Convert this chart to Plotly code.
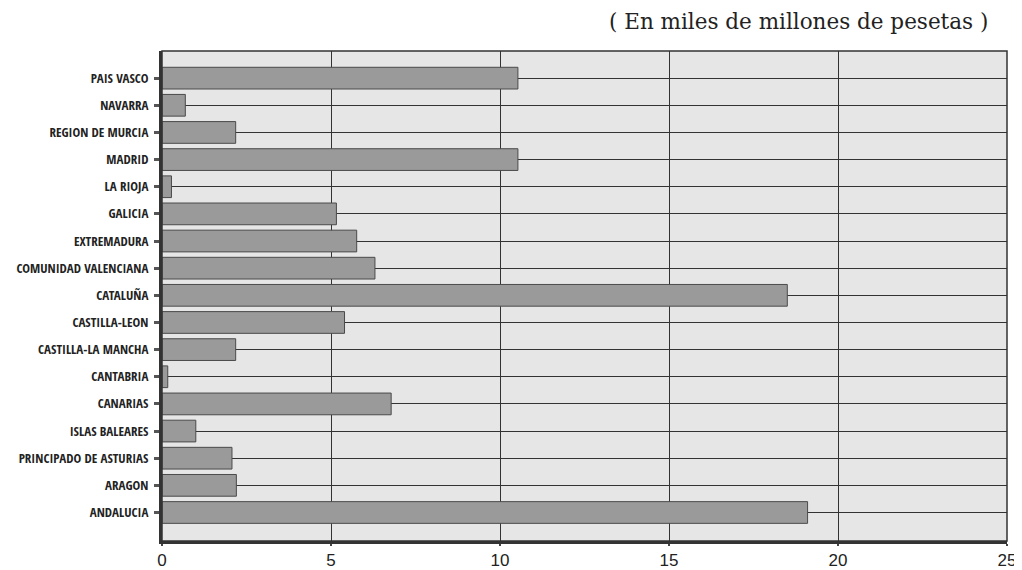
import plotly.graph_objects as go

# Categories listed bottom -> top
regiones = [
    "ANDALUCIA", "ARAGON", "PRINCIPADO DE ASTURIAS", "ISLAS BALEARES", "CANARIAS",
    "CANTABRIA", "CASTILLA-LA MANCHA", "CASTILLA-LEON", "CATALUÑA",
    "COMUNIDAD VALENCIANA", "EXTREMADURA", "GALICIA", "LA RIOJA", "MADRID",
    "REGION DE MURCIA", "NAVARRA", "PAIS VASCO",
]
valores = [
    19.1, 2.2, 2.07, 1.0, 6.78,
    0.17, 2.18, 5.4, 18.5,
    6.3, 5.76, 5.16, 0.28, 10.53,
    2.18, 0.69, 10.53,
]
x_ticks = [0, 5, 10, 15, 20, 25]
titulo = "( En miles de millones de pesetas )"

fig = go.Figure()
fig.add_trace(go.Bar(
    y=regiones, x=valores, orientation="h", width=0.8,
    marker=dict(color="#9a9a9a", line=dict(color="#4a4a4a", width=1)),
    showlegend=False,
))

# the page body adds an 8px offset, so the figure is 8px smaller
fig.update_layout(
    width=1014, height=562,
    margin=dict(l=154, r=15, t=43, b=29),
    paper_bgcolor="white",
    plot_bgcolor="#e6e6e6",
    annotations=[dict(
        text=titulo, xref="paper", yref="paper", x=1.0, y=1.0,
        xanchor="right", yanchor="bottom", yshift=15, xshift=-17, showarrow=False,
        font=dict(family="DejaVu Serif, Liberation Serif, serif", size=21.5, color="#222"),
    )],
)
fig.update_xaxes(
    range=[0, 25], tickvals=x_ticks, ticktext=[str(v) for v in x_ticks],
    showgrid=True, gridcolor="#333", gridwidth=1,
    showline=True, linecolor="#333", linewidth=3,
    ticks="outside", ticklen=2, tickwidth=2, tickcolor="#444",
    ticklabelstandoff=0,
    tickfont=dict(family="Liberation Sans, Arial, sans-serif", size=17, color="#222"),
    zeroline=False, fixedrange=True, automargin=False,
)
fig.update_yaxes(
    type="category", categoryorder="array", categoryarray=regiones,
    range=[-1.05, 17],
    showgrid=True, gridcolor="#333", gridwidth=1,
    showline=True, linecolor="#333", linewidth=3,
    ticks="outside", ticklen=5, tickwidth=3, tickcolor="#555",
    ticklabelstandoff=3,
    tickfont=dict(family="Open Sans Condensed, Roboto Condensed, sans-serif", size=13, color="#222"),
    zeroline=False, fixedrange=True, automargin=False,
)
# thin border on top and right
fig.add_shape(type="rect", xref="paper", yref="paper", x0=0, x1=1, y0=0, y1=1,
              line=dict(color="#333", width=1.5), layer="above")

fig.write_html("out.html")
